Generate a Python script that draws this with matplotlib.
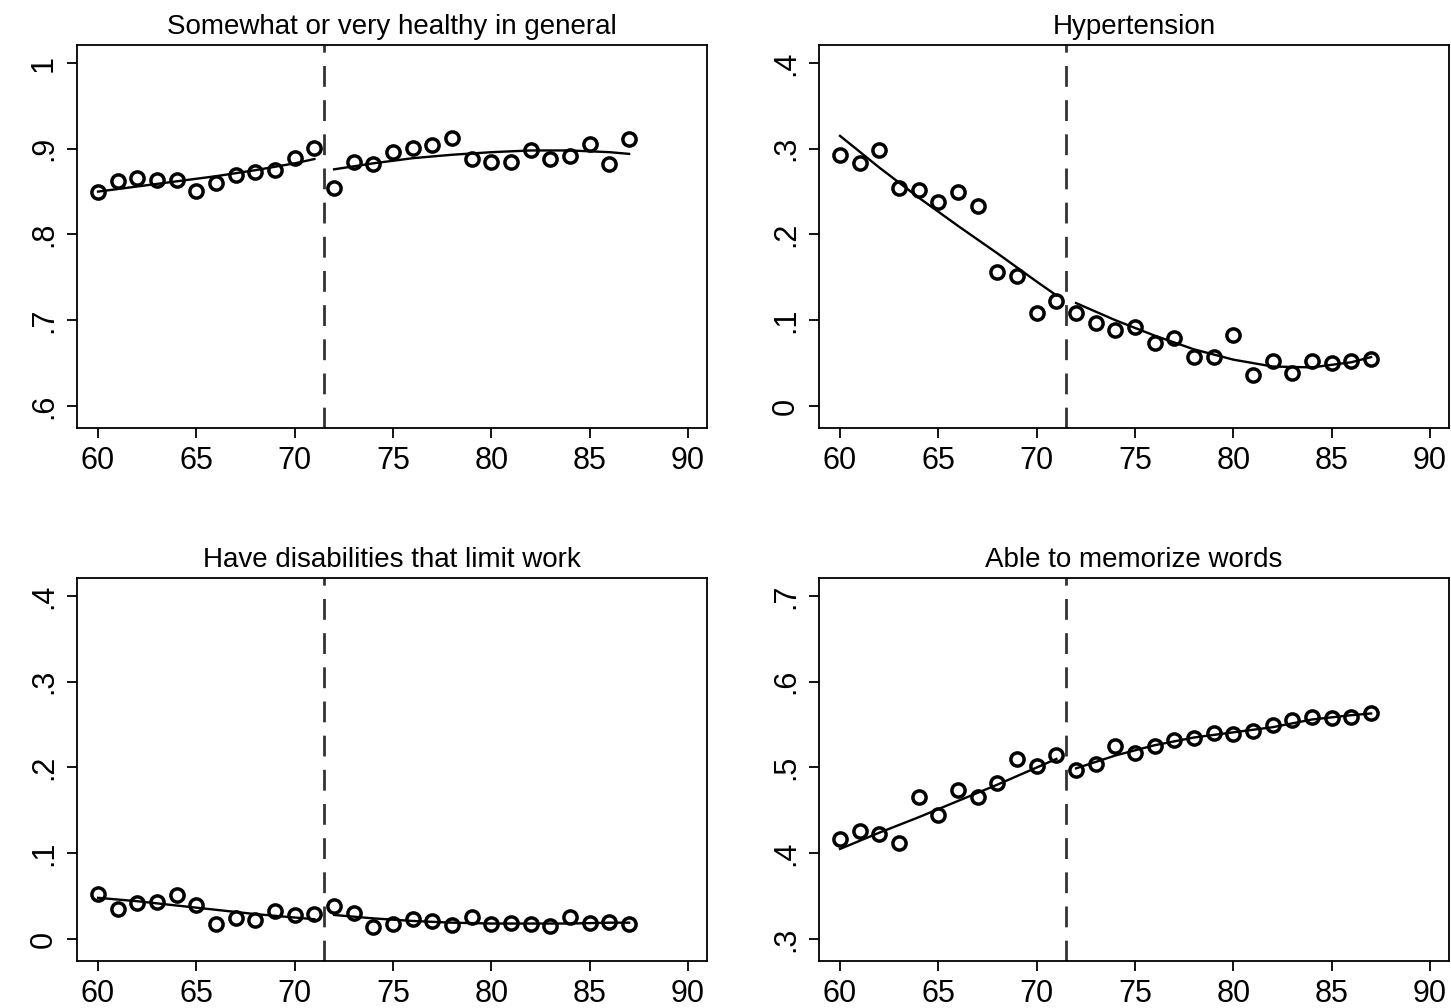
"""Health outcomes by age, with a break at 71.5 (binned means + fitted lines)."""

import matplotlib

matplotlib.use("Agg")
import matplotlib.pyplot as plt
from matplotlib.ticker import FixedLocator, FuncFormatter

plt.rcParams["font.family"] = ["Liberation Sans", "DejaVu Sans"]

AGES = list(range(60, 88))
CUTOFF = 71.5

TITLES = [
    "Somewhat or very healthy in general",
    "Hypertension",
    "Have disabilities that limit work",
    "Able to memorize words",
]

healthy = [0.849, 0.862, 0.866, 0.864, 0.864, 0.851, 0.860, 0.869, 0.873, 0.875,
           0.889, 0.901, 0.854, 0.884, 0.882, 0.896, 0.901, 0.904, 0.912, 0.888,
           0.884, 0.884, 0.899, 0.888, 0.892, 0.905, 0.882, 0.911]
hypertension = [0.293, 0.283, 0.299, 0.254, 0.252, 0.238, 0.249, 0.233, 0.156, 0.151,
                0.109, 0.122, 0.108, 0.097, 0.089, 0.092, 0.074, 0.079, 0.057, 0.057,
                0.083, 0.036, 0.052, 0.039, 0.052, 0.050, 0.053, 0.055]
disability = [0.053, 0.035, 0.042, 0.043, 0.051, 0.040, 0.018, 0.025, 0.022, 0.033,
              0.028, 0.029, 0.039, 0.030, 0.014, 0.018, 0.023, 0.021, 0.016, 0.026,
              0.018, 0.019, 0.017, 0.015, 0.026, 0.019, 0.020, 0.018]
memory = [0.417, 0.426, 0.423, 0.412, 0.466, 0.444, 0.474, 0.465, 0.482, 0.510,
          0.502, 0.515, 0.497, 0.504, 0.525, 0.517, 0.525, 0.532, 0.534, 0.540,
          0.539, 0.543, 0.550, 0.555, 0.559, 0.558, 0.559, 0.563]

FIT_LEFT_X = [60, 62, 64, 66, 68, 70, 71]
FIT_RIGHT_X = [72, 74, 76, 78, 80, 82, 84, 86, 87]
healthy_fit_l = [0.850, 0.856, 0.862, 0.868, 0.875, 0.883, 0.888]
healthy_fit_r = [0.876, 0.883, 0.889, 0.893, 0.896, 0.898, 0.898, 0.896, 0.894]
hyper_fit_l = [0.315, 0.278, 0.243, 0.210, 0.178, 0.145, 0.129]
hyper_fit_r = [0.120, 0.100, 0.082, 0.066, 0.054, 0.046, 0.045, 0.051, 0.057]
disab_fit_l = [0.048, 0.044, 0.039, 0.034, 0.029, 0.025, 0.023]
disab_fit_r = [0.028, 0.024, 0.021, 0.019, 0.018, 0.018, 0.018, 0.019, 0.019]
memory_fit_l = [0.405, 0.424, 0.442, 0.461, 0.480, 0.500, 0.510]
memory_fit_r = [0.499, 0.514, 0.526, 0.535, 0.541, 0.547, 0.556, 0.561, 0.563]

SERIES = [healthy, hypertension, disability, memory]
FITS = [(healthy_fit_l, healthy_fit_r), (hyper_fit_l, hyper_fit_r),
        (disab_fit_l, disab_fit_r), (memory_fit_l, memory_fit_r)]
YTICKS = [[0.6, 0.7, 0.8, 0.9, 1.0], [0, 0.1, 0.2, 0.3, 0.4],
          [0, 0.1, 0.2, 0.3, 0.4], [0.3, 0.4, 0.5, 0.6, 0.7]]
XTICKS = [60, 65, 70, 75, 80, 85, 90]


def stata_fmt(v, _pos=None):
    s = f"{v:g}"
    if s.startswith("0."):
        s = s[1:]
    return s


def main() -> None:
    fig = plt.figure(figsize=(14.51, 10.08), dpi=100)
    W, H = 1451, 1008
    boxes = [(77, 45), (819, 45), (77, 578), (819, 578)]  # left, top in px
    bw, bh = 630, 383

    for i, (left, top) in enumerate(boxes):
        ax = fig.add_axes([left / W, 1 - (top + bh) / H, bw / W, bh / H])
        yt = YTICKS[i]
        step = yt[1] - yt[0]
        ax.set_xlim(58.93, 90.96)
        ax.set_ylim(yt[0] - 0.257 * step, yt[-1] + 0.21 * step)

        ax.plot(AGES, SERIES[i], "o", ms=9.5, mfc="none", mec="black", mew=2.5,
                zorder=3)
        fl, fr = FITS[i]
        ax.plot(FIT_LEFT_X, fl, color="black", lw=1.7, zorder=2)
        ax.plot(FIT_RIGHT_X, fr, color="black", lw=1.7, zorder=2)
        ax.axvline(CUTOFF, color="#333333", lw=2, dashes=(7.5, 4.8), zorder=1)

        ax.xaxis.set_major_locator(FixedLocator(XTICKS))
        ax.yaxis.set_major_locator(FixedLocator(yt))
        ax.yaxis.set_major_formatter(FuncFormatter(stata_fmt))
        ax.tick_params(axis="both", direction="out", length=7, width=1.3,
                       labelsize=22, pad=6)
        for lab in ax.get_yticklabels():
            lab.set_rotation(90)
            lab.set_va("center")
        for sp in ax.spines.values():
            sp.set_linewidth(1.3)
        ax.set_title(TITLES[i], fontsize=20, pad=8)

    fig.savefig("out.png", dpi=100)


if __name__ == "__main__":
    main()
